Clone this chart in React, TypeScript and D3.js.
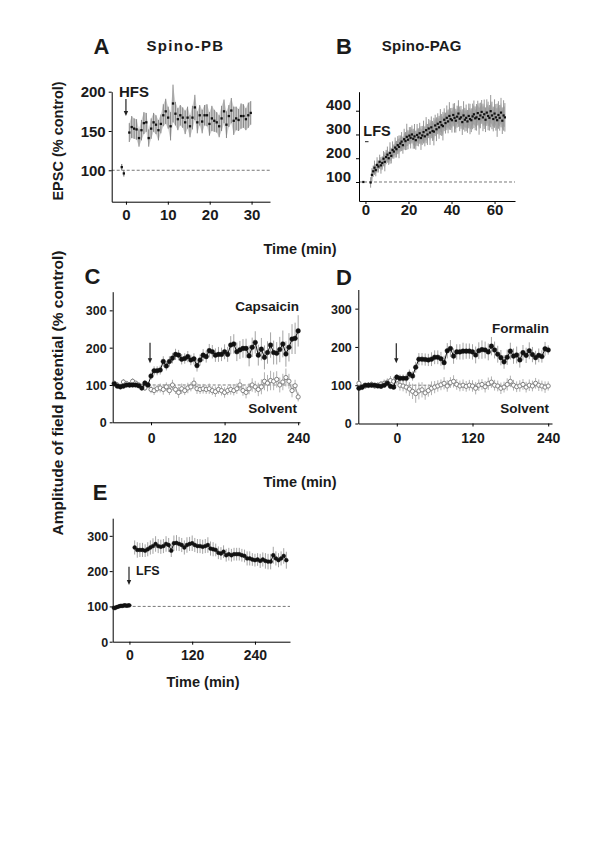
import React, { useEffect, useRef } from "react";
import * as d3 from "d3";

const FONT = "'Liberation Sans', Arial, Helvetica, sans-serif";

// ---- Panel A: Spino-PB (EPSC, % control) ----
const aPreTimes = [-1, -0.5];
const aPreValues = [104, 96];
const aPreErrors = [4, 4];
const aPostStart = 0.8;
const aPostStep = 0.58;
const aPostValues = [
  148, 155, 153, 152, 141, 151, 160, 161, 141, 153,
  161, 158, 151, 159, 170, 175, 167, 156, 185, 172,
  165, 170, 167, 161, 167, 156, 167, 180, 161, 170,
  162, 170, 170, 159, 166, 163, 161, 156, 166, 175,
  158, 169, 176, 163, 166, 164, 169, 169, 165, 170,
  173,
];
const aPostErrors = [
  12, 14, 13, 13, 11, 13, 14, 12, 11, 13,
  12, 12, 13, 12, 14, 16, 14, 18, 24, 15,
  14, 13, 13, 15, 14, 14, 15, 16, 14, 13,
  15, 13, 14, 15, 16, 14, 13, 14, 16, 15,
  17, 14, 16, 18, 15, 14, 16, 15, 14, 16,
  15,
];
const aXTicks = [0, 10, 20, 30];
const aYTicks = [100, 150, 200];

// ---- Panel B: Spino-PAG ----
const bPreTimes = [-1];
const bPreValues = [100];
const bPostStart = 2.4;
const bPostStep = 0.6;
const bPostValues = [
  98, 130, 145, 160, 150, 172, 165, 185, 170, 180,
  198, 185, 205, 215, 200, 222, 210, 235, 228, 245,
  238, 255, 248, 262, 270, 255, 280, 272, 290, 278,
  295, 286, 300, 282, 292, 276, 298, 288, 305, 285,
  296, 310, 292, 318, 300, 325, 308, 330, 315, 312,
  338, 322, 345, 330, 352, 340, 335, 362, 348, 370,
  355, 378, 365, 360, 382, 370, 358, 375, 388, 366,
  372, 352, 380, 362, 370, 355, 378, 365, 360, 376,
  385, 368, 372, 390, 365, 380, 395, 372, 385, 362,
  392, 378, 370, 398, 380, 365, 388, 372, 360, 382,
  370, 392, 358, 380, 372,
];
const bPostErrors = [
  22, 28, 24, 30, 26, 32, 25, 30, 35, 28,
  32, 40, 30, 34, 28, 45, 32, 36, 30, 42,
  35, 38, 48, 34, 40, 36, 44, 38, 55, 40,
  36, 45, 38, 42, 52, 40, 46, 38, 44, 50,
  40, 48, 42, 55, 44, 40, 52, 46, 42, 58,
  45, 50, 44, 48, 55, 46, 60, 48, 44, 52,
  50, 58, 46, 52, 48, 62, 50, 46, 56, 52,
  48, 54, 60, 50, 56, 48, 52, 64, 50, 54,
  58, 50, 56, 52, 66, 54, 50, 58, 62, 52,
  56, 60, 54, 68, 58, 52, 60, 56, 70, 58,
  54, 62, 56, 64, 60,
];
const bXTicks = [0, 20, 40, 60];
const bYTicks = [100, 200, 300, 400];

// ---- Panels C and D: field potentials, 5 min bins from -60 to 240 ----
const cdStart = -60;
const cdStep = 5;
const capsaicinValues = [
  103, 97, 95, 97, 100, 100, 100, 100, 98, 92, 105, 100,
  124, 138, 138, 140, 163, 151, 163, 172, 182, 180,
  169, 171, 176, 167, 170, 152, 167, 180, 176, 192,
  189, 180, 182, 182, 189, 182, 207, 210, 189, 194,
  198, 198, 178, 201, 214, 180, 196, 174, 187, 207,
  187, 185, 195, 210, 183, 201, 223, 225, 245,
];
const capsaicinErrors = [
  6, 5, 6, 5, 6, 5, 6, 5, 6, 8, 8, 6,
  10, 12, 12, 12, 14, 12, 14, 14, 15, 14,
  14, 14, 15, 14, 15, 16, 15, 16, 16, 18,
  18, 18, 20, 18, 20, 20, 24, 26, 25, 24,
  25, 26, 28, 26, 30, 28, 30, 32, 30, 34,
  32, 30, 34, 36, 34, 38, 40, 42, 42,
];
const solventCValues = [
  105, 100, 96, 108, 104, 100, 110, 105, 100, 96, 92, 100,
  88, 85, 90, 92, 88, 95, 85, 100, 88, 80,
  90, 85, 92, 95, 105, 90, 88, 90, 88, 90,
  85, 82, 88, 85, 80, 85, 88, 85, 90, 100,
  85, 80, 90, 100, 95, 88, 95, 110, 105, 112,
  110, 115, 100, 108, 120, 110, 85, 98, 68,
];
const solventCErrors = [
  6, 8, 7, 8, 6, 7, 8, 6, 7, 8, 8, 7,
  10, 12, 10, 12, 14, 12, 12, 14, 12, 15,
  14, 12, 14, 12, 15, 14, 12, 13, 12, 14,
  12, 14, 12, 13, 14, 12, 14, 13, 14, 16,
  14, 16, 15, 18, 16, 18, 20, 24, 22, 26,
  24, 22, 20, 22, 24, 20, 18, 16, 12,
];
const formalinValues = [
  92, 95, 100, 100, 100, 100, 98, 97, 100, 105, 97, 95,
  121, 118, 118, 118, 129, 124, 147, 168, 168, 167,
  166, 168, 173, 173, 169, 159, 190, 196, 176, 187,
  187, 189, 189, 189, 187, 179, 190, 193, 192, 187,
  202, 192, 181, 172, 161, 173, 189, 176, 179, 166,
  185, 178, 190, 180, 172, 178, 175, 195, 192,
];
const formalinErrors = [
  5, 5, 4, 5, 4, 5, 5, 4, 5, 6, 5, 5,
  8, 10, 10, 10, 12, 12, 14, 16, 16, 16,
  16, 18, 18, 18, 18, 18, 20, 22, 20, 20,
  20, 22, 20, 20, 20, 22, 22, 24, 22, 22,
  24, 22, 22, 20, 18, 20, 22, 20, 22, 20,
  20, 20, 22, 20, 18, 18, 16, 18, 12,
];
const solventDValues = [
  105, 95, 98, 100, 102, 98, 100, 103, 105, 108, 112, 110,
  114, 100, 98, 95, 90, 84, 78, 85, 88, 80,
  86, 92, 95, 98, 101, 105, 98, 107, 110, 102,
  98, 100, 97, 100, 98, 92, 100, 102, 96, 104,
  108, 100, 98, 92, 95, 102, 110, 100, 96, 98,
  102, 95, 100, 98, 105, 100, 98, 95, 98,
];
const solventDErrors = [
  8, 8, 7, 8, 8, 7, 8, 8, 10, 10, 12, 12,
  12, 14, 14, 16, 18, 20, 24, 22, 20, 18,
  16, 18, 16, 15, 14, 16, 15, 14, 16, 14,
  14, 15, 14, 14, 15, 16, 15, 14, 15, 16,
  15, 14, 14, 15, 14, 16, 15, 14, 14, 15,
  14, 14, 15, 14, 14, 15, 14, 15, 12,
];
const cdXTicks = [0, 120, 240];
const cdYTicks = [0, 100, 200, 300];

// ---- Panel E: LFS ----
const ePreStart = -30;
const ePreStep = 2;
const ePreValues = [96, 95, 97, 98, 99, 100, 101, 102, 101, 102, 103, 103, 102, 102, 103, 103];
const ePostStart = 10;
const ePostStep = 5;
const ePostValues = [
  267, 260, 260, 260, 258, 262, 267, 271, 277, 271,
  269, 271, 277, 274, 258, 279, 280, 277, 274, 267,
  274, 277, 279, 274, 271, 271, 269, 271, 274, 264,
  262, 260, 252, 250, 255, 245, 248, 245, 248, 248,
  248, 245, 243, 236, 236, 233, 231, 233, 229, 233,
  229, 227, 227, 245, 236, 231, 236, 243, 231,
];
const ePostErrors = [
  20, 22, 20, 20, 18, 20, 20, 22, 22, 20,
  20, 20, 22, 20, 18, 22, 22, 20, 20, 20,
  22, 20, 22, 20, 20, 20, 20, 20, 22, 20,
  20, 18, 18, 18, 18, 18, 18, 18, 18, 18,
  18, 18, 18, 20, 20, 18, 18, 18, 20, 20,
  22, 22, 22, 24, 20, 20, 20, 22, 24,
];
const eXTicks = [0, 120, 240];
const eYTicks = [0, 100, 200, 300];

type Sel = d3.Selection<any, any, any, any>;
type Lin = d3.ScaleLinear<number, number>;

const seq = (start: number, step: number, n: number) => d3.range(n).map(i => start + i * step);

function label(svg: Sel, x: number, y: number, s: string, size: number, anchor = "middle", spacing = 0) {
  return svg.append("text")
    .attr("x", x)
    .attr("y", y)
    .attr("text-anchor", anchor)
    .attr("dominant-baseline", "central")
    .attr("font-family", FONT)
    .attr("font-weight", "bold")
    .attr("font-size", size)
    .attr("letter-spacing", spacing)
    .attr("fill", "#1a1a1a")
    .text(s);
}

function arrow(svg: Sel, x: number, y1: number, y2: number) {
  svg.append("line").attr("x1", x).attr("x2", x).attr("y1", y1).attr("y2", y2 - 4)
    .attr("stroke", "#222").attr("stroke-width", 1.2);
  svg.append("path").attr("d", `M${x - 2.2},${y2 - 5}L${x + 2.2},${y2 - 5}L${x},${y2}Z`).attr("fill", "#222");
}

function axes(svg: Sel, x: Lin, y: Lin, xTicks: number[], yTicks: number[],
  o: { xFont: number; yFont: number; xOff: number; yGap: number; yShift?: number; dashEnd: number }) {
  const bottom = y.range()[0];
  const left = x.range()[0];

  svg.append("line")
    .attr("x1", left).attr("x2", o.dashEnd)
    .attr("y1", y(100)).attr("y2", y(100))
    .attr("stroke", "#555").attr("stroke-width", 0.8)
    .attr("stroke-dasharray", "3,2");

  const gx = svg.append("g")
    .attr("transform", `translate(0,${bottom})`)
    .call(d3.axisBottom(x).tickValues(xTicks).tickSize(3).tickSizeOuter(0));
  gx.attr("font-family", FONT).attr("font-size", o.xFont).attr("font-weight", "bold");
  gx.selectAll("text").attr("y", o.xOff).attr("dy", "0.35em").attr("fill", "#1a1a1a");

  const gy = svg.append("g")
    .attr("transform", `translate(${left},0)`)
    .call(d3.axisLeft(y).tickValues(yTicks).tickSize(3).tickSizeOuter(0));
  gy.attr("font-family", FONT).attr("font-size", o.yFont).attr("font-weight", "bold");
  gy.selectAll("text").attr("x", -o.yGap).attr("y", o.yShift ?? 0).attr("dy", "0.35em").attr("fill", "#1a1a1a");
}

function band(svg: Sel, x: Lin, y: Lin, ts: number[], vs: number[], es: number[], fill: string) {
  const area = d3.area<number>()
    .x((_, i) => x(ts[i]))
    .y0((v, i) => y(v - es[i]))
    .y1((v, i) => y(v + es[i]));
  svg.append("path").datum(vs).attr("d", area).attr("fill", fill);
}

function errBars(svg: Sel, x: Lin, y: Lin, ts: number[], vs: number[], es: number[], color: string, w = 1) {
  svg.append("g").selectAll("line")
    .data(vs)
    .join("line")
    .attr("x1", (_, i) => x(ts[i]))
    .attr("x2", (_, i) => x(ts[i]))
    .attr("y1", (v, i) => y(v - es[i]))
    .attr("y2", (v, i) => y(v + es[i]))
    .attr("stroke", color)
    .attr("stroke-width", w);
}

function trace(svg: Sel, x: Lin, y: Lin, ts: number[], vs: number[], color: string, w = 1) {
  const line = d3.line<number>().x((_, i) => x(ts[i])).y(v => y(v));
  svg.append("path").datum(vs).attr("d", line).attr("fill", "none").attr("stroke", color).attr("stroke-width", w);
}

function squares(svg: Sel, x: Lin, y: Lin, ts: number[], vs: number[], s = 2.4) {
  svg.append("g").selectAll("rect")
    .data(vs)
    .join("rect")
    .attr("x", (_, i) => x(ts[i]) - s / 2)
    .attr("y", v => y(v) - s / 2)
    .attr("width", s)
    .attr("height", s)
    .attr("fill", "#111");
}

function dots(svg: Sel, x: Lin, y: Lin, ts: number[], vs: number[], r: number, open: boolean) {
  svg.append("g").selectAll("circle")
    .data(vs)
    .join("circle")
    .attr("cx", (_, i) => x(ts[i]))
    .attr("cy", v => y(v))
    .attr("r", r)
    .attr("fill", open ? "#fff" : "#111")
    .attr("stroke", open ? "#777" : "#111")
    .attr("stroke-width", open ? 0.9 : 0.5);
}

export default function App() {
  const ref = useRef<SVGSVGElement>(null);

  useEffect(() => {
    const svg = d3.select(ref.current);
    svg.selectAll("*").remove();

    // ---------- A ----------
    const xA = d3.scaleLinear().domain([-3.4, 34.4]).range([111.7, 270]);
    const yA = d3.scaleLinear().domain([60, 200]).range([201.7, 91.7]);
    const aTimes = seq(aPostStart, aPostStep, aPostValues.length);
    band(svg, xA, yA, aTimes, aPostValues, aPostErrors, "#cfcfcf");
    axes(svg, xA, yA, aXTicks, aYTicks, { xFont: 15, yFont: 15, xOff: 13.5, yGap: 6, dashEnd: 270 });
    errBars(svg, xA, yA, aTimes, aPostValues, aPostErrors, "#7a7a7a", 0.9);
    errBars(svg, xA, yA, aPreTimes, aPreValues, aPreErrors, "#555", 0.9);
    squares(svg, xA, yA, aTimes, aPostValues, 2.3);
    squares(svg, xA, yA, aPreTimes, aPreValues, 2.3);
    label(svg, 101.5, 46, "A", 22);
    label(svg, 185.5, 45.5, "Spino-PB", 15, "middle", 1.3);
    label(svg, 119, 91.7, "HFS", 15, "start");
    arrow(svg, xA(0), 99, 116);
    label(svg, 0, 0, "EPSC (% control)", 14.5).attr("transform", "translate(58,141) rotate(-90)");

    // ---------- B ----------
    const xB = d3.scaleLinear().domain([-3, 69.5]).range([359, 515]);
    const yB = d3.scaleLinear().domain([20, 480]).range([201, 91.7]);
    const bTimes = seq(bPostStart, bPostStep, bPostValues.length);
    band(svg, xB, yB, bTimes, bPostValues, bPostErrors.map(e => e * 0.7), "#c2c2c2");
    axes(svg, xB, yB, bXTicks, bYTicks, { xFont: 15, yFont: 15, xOff: 8.5, yGap: 8, yShift: -6, dashEnd: 515 });
    errBars(svg, xB, yB, bTimes, bPostValues, bPostErrors, "#8c8c8c", 0.9);
    squares(svg, xB, yB, bTimes, bPostValues, 2.2);
    squares(svg, xB, yB, bPreTimes, bPreValues, 2.2);
    label(svg, 344, 46, "B", 22);
    label(svg, 421.8, 45, "Spino-PAG", 15, "middle", 0.2);
    label(svg, 363.3, 130.5, "LFS", 14.5, "start");
    svg.append("line").attr("x1", 365).attr("x2", 368.5).attr("y1", 141.7).attr("y2", 141.7)
      .attr("stroke", "#222").attr("stroke-width", 1);

    label(svg, 300, 249, "Time (min)", 14.5);

    // ---------- C ----------
    const cdTimes = seq(cdStart, cdStep, capsaicinValues.length);
    const xC = d3.scaleLinear().domain([-62.5, 243]).range([112.7, 300]);
    const yC = d3.scaleLinear().domain([0, 350]).range([422.3, 291.7]);
    axes(svg, xC, yC, cdXTicks, cdYTicks, { xFont: 14, yFont: 12.5, xOff: 15.7, yGap: 6, dashEnd: 298 });
    errBars(svg, xC, yC, cdTimes, solventCValues, solventCErrors, "#a8a8a8", 0.9);
    errBars(svg, xC, yC, cdTimes, capsaicinValues, capsaicinErrors, "#999", 0.9);
    trace(svg, xC, yC, cdTimes, solventCValues, "#8a8a8a", 0.9);
    dots(svg, xC, yC, cdTimes, solventCValues, 2.1, true);
    trace(svg, xC, yC, cdTimes, capsaicinValues, "#111", 1);
    dots(svg, xC, yC, cdTimes, capsaicinValues, 2.3, false);
    label(svg, 92.5, 276.5, "C", 22);
    label(svg, 299, 306.7, "Capsaicin", 13.5, "end");
    label(svg, 297, 408.3, "Solvent", 13.5, "end");
    arrow(svg, xC(0) - 1, 342.7, 363.3);

    // ---------- D ----------
    const xD = d3.scaleLinear().domain([-61, 246]).range([358.3, 552]);
    const yD = d3.scaleLinear().domain([0, 350]).range([423.5, 289.5]);
    axes(svg, xD, yD, cdXTicks, cdYTicks, { xFont: 14, yFont: 12.5, xOff: 14.5, yGap: 6.5, dashEnd: 549 });
    errBars(svg, xD, yD, cdTimes, solventDValues, solventDErrors, "#a8a8a8", 0.9);
    errBars(svg, xD, yD, cdTimes, formalinValues, formalinErrors, "#999", 0.9);
    trace(svg, xD, yD, cdTimes, solventDValues, "#8a8a8a", 0.9);
    dots(svg, xD, yD, cdTimes, solventDValues, 2.1, true);
    trace(svg, xD, yD, cdTimes, formalinValues, "#111", 1);
    dots(svg, xD, yD, cdTimes, formalinValues, 2.3, false);
    label(svg, 344, 277.5, "D", 22);
    label(svg, 549, 328.3, "Formalin", 13.5, "end");
    label(svg, 549, 408, "Solvent", 13.5, "end");
    arrow(svg, xD(0) - 0.5, 343.3, 363.3);

    label(svg, 300, 482, "Time (min)", 14.5);
    label(svg, 0, 0, "Amplitude of field potential  (% control)", 15.5)
      .attr("transform", "translate(57,393) rotate(-90)");

    // ---------- E ----------
    const xE = d3.scaleLinear().domain([-32, 307]).range([112.7, 290]);
    const yE = d3.scaleLinear().domain([0, 350]).range([641.7, 518.2]);
    const ePreTimes = seq(ePreStart, ePreStep, ePreValues.length);
    const ePostTimes = seq(ePostStart, ePostStep, ePostValues.length);
    axes(svg, xE, yE, eXTicks, eYTicks, { xFont: 14, yFont: 12.5, xOff: 13.3, yGap: 4.5, dashEnd: 290 });
    errBars(svg, xE, yE, ePostTimes, ePostValues, ePostErrors, "#999", 0.9);
    trace(svg, xE, yE, ePostTimes, ePostValues, "#111", 1);
    dots(svg, xE, yE, ePostTimes, ePostValues, 1.9, false);
    trace(svg, xE, yE, ePreTimes, ePreValues, "#111", 1.2);
    dots(svg, xE, yE, ePreTimes, ePreValues, 1.8, false);
    label(svg, 100, 492.5, "E", 22);
    arrow(svg, 129, 566.7, 585);
    label(svg, 136, 571.3, "LFS", 12.5, "start");
    label(svg, 203, 681.7, "Time (min)", 14.5);
  }, []);

  return (
    <svg
      ref={ref}
      width={600}
      height={849}
      style={{ position: "absolute", left: 0, top: 0, background: "#fff" }}
    />
  );
}
